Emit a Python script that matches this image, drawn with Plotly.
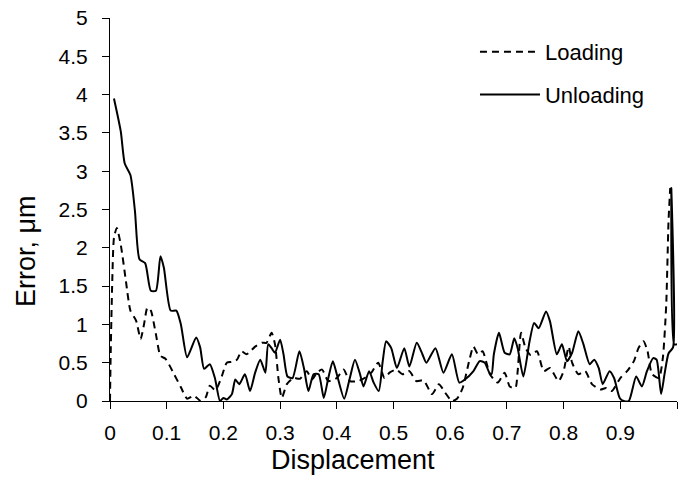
import plotly.graph_objects as go

load_x = [0, 0.001, 0.004, 0.007, 0.012, 0.019, 0.028, 0.036, 0.046, 0.054, 0.060, 0.066, 0.072, 0.081, 0.089,
          0.098, 0.113, 0.125, 0.136, 0.148, 0.160, 0.169, 0.176, 0.186, 0.197, 0.206, 0.215, 0.224, 0.232, 0.241,
          0.256, 0.268, 0.276, 0.285, 0.291, 0.297, 0.303, 0.312, 0.324, 0.335, 0.347, 0.356, 0.365, 0.374, 0.385,
          0.400, 0.412, 0.423, 0.438, 0.449, 0.461, 0.473, 0.484, 0.493, 0.505, 0.516, 0.528, 0.540, 0.553, 0.568,
          0.580, 0.591, 0.603, 0.612, 0.622, 0.634, 0.641, 0.649, 0.657, 0.664, 0.670, 0.684, 0.696, 0.705, 0.715,
          0.719, 0.725, 0.733, 0.742, 0.753, 0.765, 0.776, 0.791, 0.800, 0.809, 0.815, 0.826, 0.838, 0.850, 0.865,
          0.875, 0.885, 0.900, 0.912, 0.924, 0.932, 0.941, 0.948, 0.956, 0.968, 0.975, 0.981, 0.985, 0.988]
load_y = [0, 0.53, 1.57, 2.13, 2.26, 2.04, 1.57, 1.18, 1.05, 0.81, 1.0, 1.22, 1.18, 0.87, 0.59,
          0.55, 0.35, 0.18, 0.03, 0.07, 0.0, 0.05, 0.20, 0.14, 0.32, 0.50, 0.51, 0.54, 0.65, 0.61,
          0.71, 0.76, 0.76, 0.89, 0.74, 0.30, 0.04, 0.22, 0.30, 0.29, 0.39, 0.28, 0.37, 0.41, 0.26,
          0.30, 0.41, 0.26, 0.26, 0.30, 0.37, 0.50, 0.30, 0.37, 0.41, 0.35, 0.39, 0.26, 0.27, 0.09,
          0.22, 0.11, 0.0, 0.03, 0.17, 0.54, 0.71, 0.61, 0.65, 0.50, 0.35, 0.24, 0.37, 0.19, 0.17,
          0.39, 0.89, 0.69, 0.60, 0.65, 0.39, 0.43, 0.26, 0.39, 0.71, 0.50, 0.35, 0.39, 0.22, 0.15,
          0.17, 0.13, 0.30, 0.39, 0.52, 0.69, 0.78, 0.65, 0.35, 0.30, 0.56, 1.26, 2.34, 2.78]

unload_x = [0.007, 0.019, 0.026, 0.036, 0.044, 0.052, 0.062, 0.072, 0.081, 0.089, 0.095, 0.107, 0.117, 0.125,
            0.136, 0.152, 0.159, 0.166, 0.176, 0.185, 0.194, 0.200, 0.206, 0.215, 0.221, 0.228, 0.238, 0.247,
            0.256, 0.265, 0.274, 0.279, 0.285, 0.291, 0.300, 0.306, 0.313, 0.322, 0.334, 0.342, 0.350, 0.359,
            0.368, 0.377, 0.385, 0.393, 0.400, 0.413, 0.423, 0.432, 0.441, 0.447, 0.457, 0.465, 0.474, 0.481,
            0.487, 0.496, 0.506, 0.519, 0.528, 0.541, 0.551, 0.558, 0.574, 0.588, 0.603, 0.616, 0.626, 0.641,
            0.652, 0.661, 0.669, 0.673, 0.677, 0.686, 0.696, 0.705, 0.713, 0.719, 0.729, 0.740, 0.748, 0.756,
            0.769, 0.776, 0.788, 0.797, 0.806, 0.815, 0.826, 0.835, 0.846, 0.854, 0.862, 0.869, 0.881, 0.889,
            0.899, 0.906, 0.915, 0.928, 0.938, 0.947, 0.958, 0.964, 0.972, 0.978, 0.985, 0.993, 0.990, 0.995, 1.0]
unload_y = [3.95, 3.52, 3.10, 2.95, 2.48, 1.85, 1.80, 1.44, 1.44, 1.89, 1.74, 1.18, 1.18, 1.0,
            0.57, 0.83, 0.70, 0.42, 0.48, 0.30, 0.0, 0.04, 0.02, 0.09, 0.28, 0.22, 0.35, 0.13,
            0.37, 0.54, 0.37, 0.74, 0.69, 0.63, 0.80, 0.61, 0.32, 0.30, 0.65, 0.43, 0.13, 0.35,
            0.35, 0.04, 0.30, 0.52, 0.35, 0.03, 0.30, 0.54, 0.35, 0.19, 0.39, 0.24, 0.13, 0.52,
            0.78, 0.69, 0.43, 0.69, 0.45, 0.76, 0.61, 0.50, 0.69, 0.37, 0.61, 0.24, 0.28, 0.39,
            0.52, 0.50, 0.37, 0.35, 0.61, 0.89, 0.63, 0.61, 0.82, 0.69, 0.32, 0.78, 1.02, 0.95,
            1.17, 1.04, 0.61, 0.74, 0.52, 0.63, 0.91, 0.74, 0.48, 0.54, 0.43, 0.22, 0.39, 0.30,
            0.04, 0.0, 0.0, 0.32, 0.19, 0.39, 0.56, 0.54, 0.09, 0.35, 0.62, 0.70, 2.78, 0.74, 0.74]

x_ticks = [0, 0.1, 0.2, 0.3, 0.4, 0.5, 0.6, 0.7, 0.8, 0.9, 1]
x_labels = ["0", "0.1", "0.2", "0.3", "0.4", "0.5", "0.6", "0.7", "0.8", "0.9", "1"]
y_ticks = [0, 0.5, 1, 1.5, 2, 2.5, 3, 3.5, 4, 4.5, 5]
y_labels = ["0", "0.5", "1", "1.5", "2", "2.5", "3", "3.5", "4", "4.5", "5"]

FONT = "Liberation Sans, Arial, sans-serif"

fig = go.Figure()
fig.add_trace(go.Scatter(x=load_x, y=load_y, mode="lines", name="Loading", legendgroup="a",
                         line=dict(color="black", width=2, dash="7px,5px", shape="spline", smoothing=0.6)))
fig.add_trace(go.Scatter(x=unload_x, y=unload_y, mode="lines", name="Unloading", legendgroup="b",
                         line=dict(color="black", width=2, shape="spline", smoothing=0.6)))

fig.update_layout(
    width=679, height=479,
    margin=dict(l=110, r=2, t=18, b=78),
    paper_bgcolor="white", plot_bgcolor="white",
    font=dict(family=FONT, size=21, color="black"),
    showlegend=True,
    legend=dict(x=0.6437, y=0.966, xanchor="left", yanchor="top", bgcolor="rgba(0,0,0,0)",
                font=dict(family=FONT, size=22, color="black"), tracegroupgap=11, itemwidth=60),
    xaxis=dict(range=[0, 1], tickvals=x_ticks, ticktext=x_labels, showgrid=False, zeroline=False,
               showline=True, linecolor="black", linewidth=1, ticks="outside", ticklen=7, tickcolor="black",
               ticklabelstandoff=6, tickfont=dict(size=21)),
    yaxis=dict(range=[0, 5], tickvals=y_ticks, ticktext=y_labels, showgrid=False, zeroline=False,
               showline=True, linecolor="black", linewidth=1, ticks="outside", ticklen=7, tickcolor="black",
               ticklabelstandoff=10, tickfont=dict(size=21)),
    annotations=[
        dict(text="Displacement", xref="paper", yref="paper", x=(353 - 110) / 567, y=(401 - 460) / 383,
             xanchor="center", yanchor="middle", showarrow=False, font=dict(family=FONT, size=27)),
        dict(text="Error, μm", xref="paper", yref="paper", x=(26 - 110) / 567, y=(401 - 251) / 383,
             xanchor="center", yanchor="middle", textangle=-90, showarrow=False, font=dict(family=FONT, size=27)),
    ],
)

fig.write_html("out.html")
